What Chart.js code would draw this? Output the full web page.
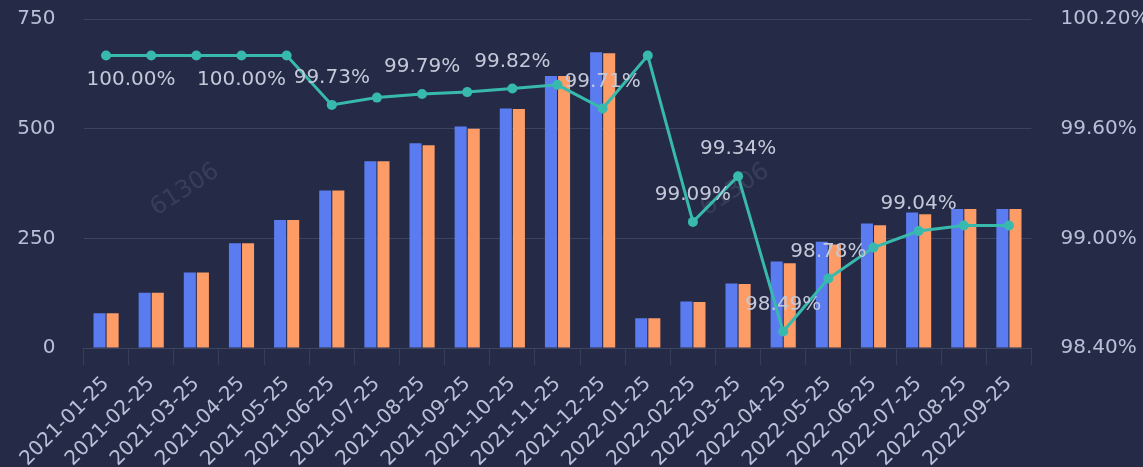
<!DOCTYPE html>
<html>
<head>
<meta charset="utf-8">
<script src="https://cdn.jsdelivr.net/npm/chart.js@4.4.0/dist/chart.umd.min.js"></script>
<style>
  html, body { margin: 0; padding: 0; background: #252b47; }
  #wrap { width: 1143px; height: 467px; }
</style>
</head>
<body>
<div id="wrap"><canvas id="chart"></canvas></div>
<script>
const months = [
  "2021-01-25", "2021-02-25", "2021-03-25", "2021-04-25", "2021-05-25",
  "2021-06-25", "2021-07-25", "2021-08-25", "2021-09-25", "2021-10-25",
  "2021-11-25", "2021-12-25", "2022-01-25", "2022-02-25", "2022-03-25",
  "2022-04-25", "2022-05-25", "2022-06-25", "2022-07-25", "2022-08-25",
  "2022-09-25",
];
const planned = [79, 126, 172, 239, 292, 359, 426, 467, 505, 546, 620, 674, 68, 106, 147, 197, 242, 284, 309, 317, 317];
const actual = [79, 126, 172, 239, 292, 359, 426, 462, 500, 545, 620, 672, 68, 105, 146, 193, 236, 280, 305, 317, 317];
const rate = [100.00, 100.00, 100.00, 100.00, 100.00, 99.73, 99.77, 99.79, 99.80, 99.82, 99.84, 99.71, 100.00, 99.09, 99.34, 98.49, 98.78, 98.95, 99.04, 99.07, 99.07];
const labelledPoints = [0, 3, 5, 7, 9, 11, 13, 14, 15, 16, 18];
const countTicks = [0, 250, 500, 750];
const rateTicks = [98.4, 99.0, 99.6, 100.2];

const FONT = "'DejaVu Sans', sans-serif";
const TICK_COLOR = "#b7c0d6";

// faint "61306" stamps behind the marks
const watermark = {
  id: "watermark",
  beforeDatasetsDraw(chart) {
    const ctx = chart.ctx;
    ctx.save();
    ctx.font = "24px " + FONT;
    ctx.fillStyle = "rgba(255,255,255,0.09)";
    ctx.textAlign = "center";
    ctx.textBaseline = "middle";
    [[185, 190], [735, 190]].forEach(([x, y]) => {
      ctx.save();
      ctx.translate(x, y);
      ctx.rotate(-33 * Math.PI / 180);
      ctx.fillText("61306", 0, 0);
      ctx.restore();
    });
    ctx.restore();
  },
};

// percentage labels on selected line points
const rateLabelPlugin = {
  id: "rateLabels",
  afterDatasetsDraw(chart) {
    const meta = chart.getDatasetMeta(2);
    const ctx = chart.ctx;
    ctx.save();
    ctx.font = "20px " + FONT;
    ctx.fillStyle = "#c3c9d8";
    ctx.textAlign = "center";
    ctx.textBaseline = "middle";
    labelledPoints.forEach((i) => {
      const pt = meta.data[i];
      const v = rate[i];
      // full-rate points get their label underneath
      const dy = v >= 100 ? 24 : -27;
      const dx = i === 0 ? 25 : 0;
      ctx.fillText(v.toFixed(2) + "%", pt.x + dx, pt.y + dy);
    });
    ctx.restore();
  },
};

const ctx = document.getElementById("chart").getContext("2d");
new Chart(ctx, {
  data: {
    labels: months,
    datasets: [
      {
        type: "bar",
        data: planned,
        backgroundColor: "#5a7cf0",
        yAxisID: "y",
        order: 2,
        categoryPercentage: 0.58,
        barPercentage: 0.92,
      },
      {
        type: "bar",
        data: actual,
        backgroundColor: "#fd9c66",
        yAxisID: "y",
        order: 2,
        categoryPercentage: 0.58,
        barPercentage: 0.92,
      },
      {
        type: "line",
        data: rate,
        borderColor: "#38b9ae",
        backgroundColor: "#38b9ae",
        borderWidth: 3,
        pointRadius: 5,
        pointBackgroundColor: "#38b9ae",
        pointBorderWidth: 0,
        tension: 0,
        yAxisID: "y1",
        order: 1,
      },
    ],
  },
  options: {
    responsive: true,
    maintainAspectRatio: false,
    animation: false,
    devicePixelRatio: 1,
    layout: { padding: { top: 19, left: 0, right: 0, bottom: 0 } },
    plugins: {
      legend: { display: false },
      tooltip: { enabled: false },
    },
    scales: {
      x: {
        offset: true,
        grid: {
          offset: true,
          drawOnChartArea: false,
          drawTicks: true,
          tickLength: 17,
          color: "#363d57",
        },
        border: { display: true, color: "#3d4460" },
        ticks: {
          autoSkip: false,
          minRotation: 45,
          maxRotation: 45,
          padding: 7,
          color: TICK_COLOR,
          font: { size: 20, family: FONT },
        },
        afterFit(scale) { scale.height = 119; },
      },
      y: {
        position: "left",
        min: 0,
        max: 750,
        afterBuildTicks(scale) { scale.ticks = countTicks.map((v) => ({ value: v })); },
        // invisible tick marks keep the labels clear of the plot
        grid: { color: "#3c435f", drawTicks: true, tickLength: 28, tickColor: "rgba(0,0,0,0)" },
        border: { display: false },
        ticks: {
          padding: 0,
          color: TICK_COLOR,
          font: { size: 20, family: FONT },
        },
        afterFit(scale) { scale.width = 83.5; },
      },
      y1: {
        position: "right",
        min: 98.4,
        max: 100.2,
        afterBuildTicks(scale) { scale.ticks = rateTicks.map((v) => ({ value: v })); },
        grid: { drawOnChartArea: false, drawTicks: true, tickLength: 29, tickColor: "rgba(0,0,0,0)" },
        border: { display: false },
        ticks: {
          padding: 0,
          color: TICK_COLOR,
          font: { size: 20, family: FONT },
          callback: (v) => Number(v).toFixed(2) + "%",
        },
        afterFit(scale) { scale.width = 111.5; },
      },
    },
  },
  plugins: [watermark, rateLabelPlugin],
});
</script>
</body>
</html>
